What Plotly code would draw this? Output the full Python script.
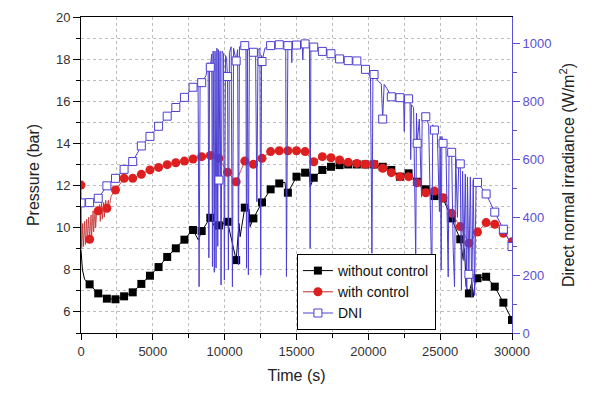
import plotly.graph_objects as go

# ---------------- data ----------------
T_MARK = [0, 600, 1200, 1800, 2400, 3000, 3600, 4200, 4800, 5400, 6000, 6600, 7200, 7800,
          8400, 9000, 9600, 10200, 10800, 11400, 12000, 12600, 13200, 13800, 14400, 15000,
          15600, 16200, 16800, 17400, 18000, 18600, 19200, 19800, 20400, 21000, 21600, 22200,
          22800, 23400, 24000, 24600, 25200, 25800, 26400, 27000, 27600, 28200, 28800, 29400, 30000]

P_WITHOUT = [None, 7.31, 6.88, 6.63, 6.60, 6.74, 6.93, 7.33, 7.72, 8.13, 8.61, 9.02, 9.43, 9.89,
             9.84, 10.47, 10.11, 10.28, 8.46, 10.95, 10.44, 11.20, 11.82, 12.10, 11.66, 12.42,
             12.61, 12.37, 12.74, 12.89, 12.97, 13.00, 13.00, 13.00, 13.00, 12.89, 12.74, 12.42,
             12.58, 12.18, 11.82, 11.50, 11.39, 10.44, 9.45, 6.88, 7.60, 7.67, 7.20, 6.44, 5.62]

P_WITH = [12.02, 9.45, 10.80, 10.92, 11.79, 12.34, 12.34, 12.53, 12.74, 12.86, 12.99, 13.08, 13.16,
          13.26, 13.37, 13.43, 13.29, 12.63, 12.18, 13.16, 13.01, 13.29, 13.61, 13.65, 13.65, 13.65,
          13.61, 13.13, 13.37, 13.32, 13.21, 13.10, 13.05, 13.01, 13.01, 12.82, 12.61, 12.42, 12.42,
          12.13, 11.66, 11.74, 11.42, 10.68, 10.05, 9.26, 9.79, 10.24, 10.16, 9.73, 9.33]

DNI = [450, 451, 466, 509, 535, 566, 593, 647, 680, 715, 750, 780, 815, 850, 866, 919, 529, 887,
       941, 994, 971, 939, 994, 997, 994, 996, 1000, 989, 974, 966, 948, 942, 941, 912, 894, 740,
       817, 814, 810, 656, 748, 702, 656, 625, 585, 203, 521, 481, 418, 359, 299]

# extra points of the continuous curves (between the markers)
WITHOUT_EXTRA_T = [0, 100, 250, 8170, 9400, 11000, 11075, 11700, 11770, 14200, 14300,
                   15900, 15950, 26100, 26600, 26700, 26800, 27200, 27300, 27450]
WITHOUT_EXTRA_V = [8.95, 8.0, 7.55, 9.41, 9.90, 10.2, 9.57, 10.9, 10.05, 12.15, 11.47,
                   12.65, 11.94, 9.9, 8.5, 9.0, 7.2, 7.4, 6.7, 7.5]

WITH_EXTRA_T = [40, 120, 160, 260, 300, 400, 440, 540, 700, 740, 840, 880, 980, 1020, 1120,
                1300, 1340, 1440, 1480, 1580, 1620, 1720, 1900, 1950, 2100]
WITH_EXTRA_V = [9.0, 10.2, 9.1, 10.3, 9.2, 10.4, 9.3, 10.5, 10.6, 9.6, 10.8, 9.8, 10.9, 10.0, 11.0,
                11.1, 10.3, 11.2, 10.4, 11.2, 10.5, 11.3, 11.3, 10.9, 11.5]

DNI_EXTRA_T = [8150, 8220, 8290, 8700, 8850, 8900, 8950, 9100, 9150, 9200, 9280, 9330, 9400,
               9460, 9520, 9560, 9680, 9750, 9820, 9920, 9980, 10060, 10130, 10260, 10330,
               10450, 10540, 10620, 10900, 10960, 11030, 11200, 11480, 11520, 11580, 11650,
               11720, 12150, 12240, 12320, 12450, 12510, 12570, 12800, 14250, 14300, 14350,
               14650, 14670, 14700, 15400, 15440, 15480, 15900, 15950, 16000, 20150, 20250,
               20320, 20700, 20900, 21100, 21300, 21800, 22000, 22450, 22500, 22550, 22900,
               22950, 23000, 23150, 23300, 23350, 23550, 23700, 23750, 23900, 24200, 24420,
               24480, 24800, 24950, 25000, 25070, 25120, 25400, 25500, 25560, 25620, 25900,
               26000, 26080, 26200, 26300, 26480, 26560, 26650, 26750, 26850, 26900, 27100,
               27200, 27300, 27400, 27500]
DNI_EXTRA_V = [858, 160, 860, 890, 935, 260, 925, 965, 230, 975, 210, 975, 225,
               985, 300, 980, 975, 166, 975, 965, 183, 960, 950, 218, 970,
               990, 160, 985, 980, 235, 990, 995, 990, 224, 990, 201,
               985, 980, 454, 980, 985, 200, 960, 985, 992, 195, 993,
               985, 935, 990, 995, 945, 995, 995, 293, 993, 885, 276,
               890, 870, 862, 860, 845, 830, 822, 818, 697, 815, 805,
               600, 790, 780, 242, 760, 740, 470, 760, 752, 720, 173,
               720, 690, 420, 680, 218, 680, 650, 380, 194, 640, 300,
               160, 610, 400, 600, 149, 560, 250, 550, 150, 540, 540,
               125, 530, 130, 520]

LEGEND_NAMES = ["without control", "with control", "DNI"]


def merge(tm, vm, te, ve):
    pts = [(t, v) for t, v in zip(tm, vm) if v is not None] + list(zip(te, ve))
    pts.sort(key=lambda p: p[0])
    return [p[0] for p in pts], [p[1] for p in pts]


BLACK = "#000000"
RED_LINE = "#c0282a"
RED_MARK = "#dd1f1f"
BLUE = "#4c3fd2"
AXIS_BLUE = "#5b50d6"
GRID = "#bdbdbd"
FONT = "Liberation Sans, Arial, sans-serif"

fig = go.Figure()

# without control
tx, ty = merge(T_MARK, P_WITHOUT, WITHOUT_EXTRA_T, WITHOUT_EXTRA_V)
fig.add_trace(go.Scatter(x=tx, y=ty, mode="lines", line=dict(color=BLACK, width=1),
                         showlegend=False, hoverinfo="skip"))
fig.add_trace(go.Scatter(x=T_MARK, y=P_WITHOUT, mode="markers",
                         marker=dict(symbol="square", size=8, color=BLACK),
                         showlegend=False))

# with control
tx, ty = merge(T_MARK, P_WITH, WITH_EXTRA_T, WITH_EXTRA_V)
fig.add_trace(go.Scatter(x=tx, y=ty, mode="lines", line=dict(color=RED_LINE, width=0.8),
                         showlegend=False, hoverinfo="skip"))
fig.add_trace(go.Scatter(x=T_MARK, y=P_WITH, mode="markers",
                         marker=dict(symbol="circle", size=9, color=RED_MARK),
                         showlegend=False))

# DNI
tx, ty = merge(T_MARK, DNI, DNI_EXTRA_T, DNI_EXTRA_V)
fig.add_trace(go.Scatter(x=tx, y=ty, mode="lines", line=dict(color=BLUE, width=1),
                         yaxis="y2", showlegend=False, hoverinfo="skip"))
fig.add_trace(go.Scatter(x=T_MARK, y=DNI, mode="markers", yaxis="y2",
                         marker=dict(symbol="square", size=8, color="white",
                                     line=dict(color=BLUE, width=1)),
                         showlegend=False))

# legend entries
fig.add_trace(go.Scatter(x=[None], y=[None], mode="lines+markers", name=LEGEND_NAMES[0],
                         line=dict(color=BLACK, width=1),
                         marker=dict(symbol="square", size=8, color=BLACK)))
fig.add_trace(go.Scatter(x=[None], y=[None], mode="lines+markers", name=LEGEND_NAMES[1],
                         line=dict(color=RED_LINE, width=1),
                         marker=dict(symbol="circle", size=9, color=RED_MARK)))
fig.add_trace(go.Scatter(x=[None], y=[None], mode="lines+markers", name=LEGEND_NAMES[2],
                         line=dict(color=BLUE, width=1),
                         marker=dict(symbol="square", size=8, color="white",
                                     line=dict(color=BLUE, width=1))))

fig.update_layout(
    width=600, height=393,
    margin=dict(l=81, r=88, t=17, b=60, autoexpand=False),
    paper_bgcolor="white", plot_bgcolor="white",
    font=dict(family=FONT, size=13, color="#333333"),
    xaxis=dict(
        range=[0, 30000], dtick=5000, tick0=0, tickformat="d",
        showline=True, linecolor=BLACK, linewidth=1, mirror=True,
        ticks="outside", ticklen=6, tickcolor=BLACK,
        showgrid=True, gridcolor=GRID, griddash="dot", gridwidth=1,
        zeroline=False, automargin=False,
        minor=dict(dtick=2500, ticks="outside", ticklen=4, tickcolor=BLACK,
                   showgrid=True, gridcolor=GRID, griddash="dot"),
        title=dict(text="Time (s)", font=dict(size=16, color="#222222"), standoff=12),
        tickfont=dict(size=13, color="#333333"),
    ),
    yaxis=dict(
        range=[5, 20], dtick=2, tick0=0,
        showline=True, linecolor=BLACK, linewidth=1,
        ticks="outside", ticklen=7, tickcolor=BLACK,
        showgrid=True, gridcolor=GRID, griddash="dot", gridwidth=1,
        zeroline=False, automargin=False,
        minor=dict(dtick=1, ticks="outside", ticklen=4, tickcolor=BLACK,
                   showgrid=True, gridcolor=GRID, griddash="dot"),
        title=dict(text="Pressure (bar)", font=dict(size=16, color="#222222"), standoff=12),
        tickfont=dict(size=13, color="#333333"),
    ),
    yaxis2=dict(
        overlaying="y", side="right",
        range=[0, 1093], dtick=200, tick0=0,
        showline=True, linecolor=AXIS_BLUE, linewidth=1,
        ticks="outside", ticklen=7, tickcolor=AXIS_BLUE,
        showgrid=False, zeroline=False, automargin=False,
        minor=dict(dtick=100, ticks="outside", ticklen=4, tickcolor=AXIS_BLUE),
        tickfont=dict(size=13, color=AXIS_BLUE),
        title=dict(text="Direct normal irradiance (W/m<sup>2</sup>)",
                   font=dict(size=16, color="#222222"), standoff=12),
    ),
    legend=dict(
        x=0.501, y=0.25, xanchor="left", yanchor="top",
        bgcolor="white", bordercolor=BLACK, borderwidth=1,
        font=dict(size=14, color="#111111"),
        tracegroupgap=0, itemsizing="trace",
    ),
)

fig.write_html("out.html", config={"displayModeBar": False},
               post_script="document.body.style.margin='0';")
